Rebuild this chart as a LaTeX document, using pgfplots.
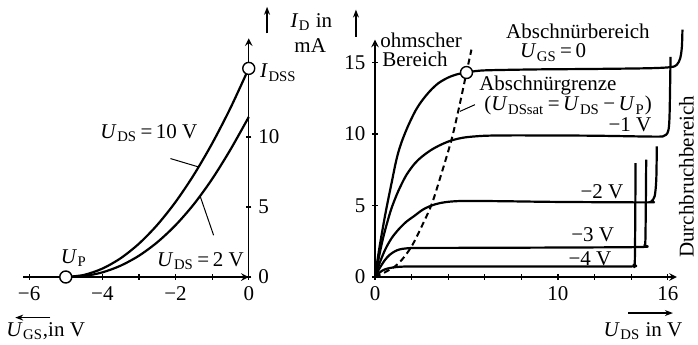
\documentclass[border=0pt]{standalone}
\usepackage{fontspec}
\setmainfont{Liberation Serif}
\usepackage{pgfplots}
\pgfplotsset{compat=1.18}
\usetikzlibrary{arrows.meta}

% italic symbol with upright subscript
\newcommand\sym[2]{\textit{#1}\kern0.03em\textsubscript{#2}}

\pgfplotsset{
  fet/.style={
    anchor=south west,
    axis line style={line width=0.7pt,-},
    tick style={line width=0.6pt,black},
    major tick length=2.6pt,
    tick align=outside,
    clip=false,
    tick label style={font=\fontsize{10.5}{12}\selectfont},
  },
  curve/.style={line width=1.1pt,black,smooth,tension=0.5,no markers,line join=round},
  dot/.style={only marks,mark=*,mark size=3pt,
    mark options={fill=white,draw=black,line width=0.7pt}},
}

\begin{document}
\begin{tikzpicture}[font=\fontsize{10.5}{12}\selectfont]
\useasboundingbox (0,0) rectangle (349pt,172pt);

% ---------- transfer characteristic ----------
\begin{axis}[fet, at={(11.65pt,33.5pt)},
  x=18.3pt, y=7pt,
  xmin=-6.16, xmax=0, ymin=0, ymax=17.05,
  axis x line=bottom, axis y line=right,
  xtick={-6,-5,-4,-3,-2,-1,0}, xticklabels={−6,,−4,,−2,,0},
  ytick={0,5,10}, yticklabels={0,5,10},
]
% U_DS = 10 V
\addplot[curve] coordinates {(-5,0) (-4.5,0.15) (-4,0.6) (-3.5,1.34) (-3,2.38) (-2.5,3.72) (-2,5.36) (-1.5,7.3) (-1,9.54) (-0.5,12.07) (0,14.9)};
% U_DS = 2 V
\addplot[curve] coordinates {(-5,0) (-4.5,0.07) (-4,0.33) (-3.5,0.81) (-3,1.52) (-2.5,2.48) (-2,3.7) (-1.5,5.2) (-1,7.0) (-0.5,9.1) (0,11.43)};
\addplot[dot] coordinates {(-5,0) (0,14.9)};

\node at (axis cs:-2.73,10.26) {\sym{U}{DS}\,=\,10 V};
\draw[line width=0.5pt] (axis cs:-2.14,8.46) -- (axis cs:-1.37,7.86);
\draw[line width=0.5pt] (axis cs:-1.32,5.71) -- (axis cs:-0.96,2.98);
\node at (axis cs:-1.32,1.12) {\sym{U}{DS}\,=\,2 V};
\node at (axis cs:-4.78,1.34) {\sym{U}{P}};
\node[anchor=west,inner sep=0pt] at (axis cs:0.3,14.6) {\sym{I}{DSS}};
\node at (axis cs:1.71,18.2) {\sym{I}{D} in};
\node at (axis cs:1.68,16.5) {mA};
\draw[line width=0.6pt,-{Stealth[length=4pt,width=3pt]}] (axis cs:0.5,17.4) -- (axis cs:0.5,19.3);
\node at (axis cs:-5.55,-3.88) {\sym{U}{GS},in V};
\draw[line width=0.6pt,-{Stealth[length=4pt,width=3pt]}] (axis cs:-5.42,-2.9) -- (axis cs:-6.38,-2.9);
\end{axis}

% ---------- output characteristics ----------
\begin{axis}[fet, at={(187.5pt,33.5pt)},
  x=9.15pt, y=7.15pt,
  xmin=0, xmax=16.5, ymin=0, ymax=16.6,
  axis x line=bottom, axis y line=left,
  xtick={0,2,4,6,8,10,12,14,16}, xticklabels={0,,,,,10,,,16},
  ytick={0,5,10,15}, yticklabels={0,5,10,15},
]
% U_GS = 0
\addplot[curve] coordinates {(0,0) (0.15,1.3) (0.3,2.5) (0.55,4.3) (0.75,5.6) (0.91,6.6) (1.1,7.8) (1.27,8.7) (1.5,9.6) (1.82,10.6) (2.2,11.6) (2.55,12.3) (3,13.0) (3.46,13.55) (4.0,13.95) (4.5,14.18) (5.0,14.3) (5.5,14.4) (6,14.45) (7,14.48) (9,14.52) (12,14.55) (15,14.6) (16.18,14.68) (16.5,14.85) (16.68,15.3) (16.77,16.1) (16.8,17.3)};
% U_GS = -1 V
\addplot[curve] coordinates {(0,0) (0.2,1.3) (0.4,2.5) (0.6,3.5) (0.9,4.8) (1.27,6.0) (1.7,7.1) (2.18,7.95) (2.6,8.45) (3.09,8.9) (3.6,9.25) (4.18,9.55) (4.9,9.76) (5.9,9.87) (7,9.9) (9,9.9) (12,9.88) (15,9.82) (15.73,9.83) (15.91,9.95) (16.04,10.3) (16.1,11.47) (16.15,15.4)};
% U_GS = -2 V
\addplot[curve] coordinates {(0,0) (0.2,0.8) (0.55,1.9) (0.9,2.7) (1.27,3.3) (1.7,3.85) (2.18,4.3) (2.6,4.7) (3.09,5.0) (3.6,5.18) (4.18,5.28) (5,5.32) (7,5.3) (10,5.25) (14.91,5.22) (15.1,5.29) (15.28,5.64) (15.37,6.8) (15.4,9.13)};
% U_GS = -3 V
\addplot[curve] coordinates {(0,0) (0.15,0.38) (0.3,0.72) (0.55,1.2) (0.8,1.55) (1.09,1.8) (1.35,1.93) (1.64,1.99) (2.2,2.03) (5,2.04) (10,2.06) (14.6,2.1) (14.73,2.24) (14.78,2.84) (14.82,8.2)};
% U_GS = -4 V
\addplot[curve] coordinates {(0,0) (0.15,0.2) (0.4,0.45) (0.65,0.58) (0.91,0.65) (1.2,0.7) (1.6,0.73) (2.2,0.74) (6,0.74) (10,0.74) (14.0,0.74) (14.13,0.86) (14.2,1.21) (14.24,7.97)};
% pinch-off boundary
\addplot[line width=1pt,black,smooth,tension=0.5,dash pattern=on 3pt off 2pt] coordinates {(0,0) (0.5,0.3) (1.09,0.74) (1.5,1.25) (2.0,2.14) (2.5,3.4) (3.09,5.06) (3.6,7.1) (4.18,9.6) (4.6,11.9) (5.0,14.3) (5.27,15.9)};
\addplot[dot] coordinates {(5.0,14.3)};

\node[anchor=west,inner sep=0pt] at (axis cs:0.27,16.57) {ohmscher};
\node[anchor=west,inner sep=0pt] at (axis cs:0.38,15.2) {Bereich};
\node at (axis cs:11.09,17.15) {Abschnürbereich};
\node at (axis cs:9.73,15.69) {\sym{U}{GS}\,=\,0};
\node at (axis cs:9.45,13.38) {Abschnürgrenze};
\node at (axis cs:10.55,11.97) {(\sym{U}{DSsat}\,=\,\sym{U}{DS}\,−\,\sym{U}{P})};
\draw[line width=0.5pt] (axis cs:4.64,11.58) -- (axis cs:5.46,12.05);
\node at (axis cs:13.93,10.64) {−1 V};
\node at (axis cs:12.4,5.97) {−2 V};
\node at (axis cs:11.9,2.96) {−3 V};
\node at (axis cs:11.75,1.28) {−4 V};
\node[rotate=90,inner sep=0pt] at (axis cs:17.02,7.0) {Durchbruchbereich};
\node at (axis cs:14.64,-3.77) {\sym{U}{DS} in V};
\draw[line width=0.6pt,-{Stealth[length=4pt,width=3pt]}] (axis cs:13.83,-2.52) -- (axis cs:16.28,-2.52);
\draw[line width=0.6pt,-{Stealth[length=4pt,width=3pt]}] (axis cs:-1.04,16.8) -- (axis cs:-1.04,18.7);
\end{axis}
\end{tikzpicture}
\end{document}
